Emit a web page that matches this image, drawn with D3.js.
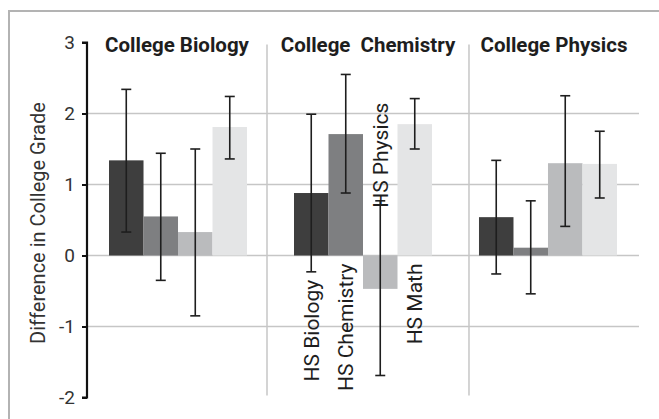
<!DOCTYPE html>
<html>
<head>
<meta charset="utf-8">
<script src="https://cdn.jsdelivr.net/npm/d3@7"></script>
<style>
  body { margin: 0; background: #fff; }
  svg { display: block; font-family: Roboto, "Open Sans", sans-serif; }
</style>
</head>
<body>
<svg id="chart" width="659" height="419"></svg>
<script>
// college course panels and the high-school course bars in each
const groups = ["College Biology", "College  Chemistry", "College Physics"];
const series = ["HS Biology", "HS Chemistry", "HS Physics", "HS Math"];
const yTicks = [3, 2, 1, 0, -1, -2];
const gridTicks = [2, 1, 0, -1];

// mean difference in college grade, per panel
const bioMeans = [1.34, 0.55, 0.33, 1.81];
const chemMeans = [0.88, 1.71, -0.47, 1.85];
const physMeans = [0.54, 0.11, 1.30, 1.29];

// error bar ends
const bioUpper = [2.34, 1.44, 1.50, 2.24];
const bioLower = [0.33, -0.35, -0.85, 1.36];
const chemUpper = [1.99, 2.55, 0.77, 2.21];
const chemLower = [-0.23, 0.88, -1.69, 1.50];
const physUpper = [1.34, 0.77, 2.25, 1.75];
const physLower = [-0.26, -0.54, 0.41, 0.81];

const colors = ["#3e3e3e", "#7e7f81", "#babbbd", "#e4e5e6"];

const means = [bioMeans, chemMeans, physMeans];
const uppers = [bioUpper, chemUpper, physUpper];
const lowers = [bioLower, chemLower, physLower];

const data = [];
groups.forEach((g, gi) => {
  series.forEach((s, si) => {
    data.push({ group: g, series: s, value: means[gi][si], hi: uppers[gi][si], lo: lowers[gi][si] });
  });
});

const svg = d3.select("#chart");
const plotLeft = 87, plotRight = 639, plotTop = 42.5, plotBottom = 397.5;

const y = d3.scaleLinear().domain([-2, 3]).range([plotBottom, plotTop]);
const x = d3.scaleBand().domain(groups).range([plotLeft, plotRight])
  .paddingInner(0.254).paddingOuter(0.119);
const xs = d3.scaleBand().domain(series).range([0, x.bandwidth()]);

// outer frame
svg.append("rect")
  .attr("x", 9).attr("y", 11).attr("width", 700).attr("height", 500)
  .attr("fill", "none").attr("stroke", "#b3b3b3").attr("stroke-width", 2);

// grid
svg.append("g").selectAll("line").data(gridTicks).join("line")
  .attr("x1", plotLeft).attr("x2", plotRight)
  .attr("y1", d => y(d)).attr("y2", d => y(d))
  .attr("stroke", "#c6c6c6").attr("stroke-width", 1.5);

// panel dividers, shifted from the start of the next group
const dividerShift = [-27, -10];
const dividers = groups.slice(1).map((g, i) => x(g) + dividerShift[i]);
svg.append("g").selectAll("line").data(dividers).join("line")
  .attr("x1", d => d).attr("x2", d => d)
  .attr("y1", y(3) + 2).attr("y2", y(-2) - 2)
  .attr("stroke", "#c6c6c6").attr("stroke-width", 1.5);

// panel titles centred in each panel
const edges = [plotLeft, ...dividers, plotRight];
svg.append("g").selectAll("text").data(groups).join("text")
  .attr("x", (d, i) => (edges[i] + edges[i + 1]) / 2)
  .attr("y", 52)
  .attr("text-anchor", "middle")
  .attr("font-size", 20.5).attr("font-weight", "bold").attr("fill", "#1e1e1e")
  .style("white-space", "pre")
  .text(d => d);

// bars
svg.append("g").selectAll("rect").data(data).join("rect")
  .attr("x", d => x(d.group) + xs(d.series))
  .attr("y", d => y(Math.max(0, d.value)))
  .attr("width", xs.bandwidth())
  .attr("height", d => Math.abs(y(d.value) - y(0)))
  .attr("fill", d => colors[series.indexOf(d.series)]);

// error bars
const eb = svg.append("g").attr("stroke", "#1e1e1e").attr("stroke-width", 1.6);
const cx = d => x(d.group) + xs(d.series) + xs.bandwidth() / 2;
eb.selectAll("line.v").data(data).join("line").attr("class", "v")
  .attr("x1", cx).attr("x2", cx)
  .attr("y1", d => y(d.hi)).attr("y2", d => y(d.lo));
eb.selectAll("line.t").data(data).join("line").attr("class", "t")
  .attr("x1", d => cx(d) - 5).attr("x2", d => cx(d) + 5)
  .attr("y1", d => y(d.hi)).attr("y2", d => y(d.hi));
eb.selectAll("line.b").data(data).join("line").attr("class", "b")
  .attr("x1", d => cx(d) - 5).attr("x2", d => cx(d) + 5)
  .attr("y1", d => y(d.lo)).attr("y2", d => y(d.lo));

// series labels written along the bars of the middle panel
const labelData = data.filter(d => d.group === groups[1]);
svg.append("g").selectAll("text").data(labelData).join("text")
  .attr("transform", d => {
    const ly = d.value < 0 ? y(d.hi) + 7 : y(Math.min(0, d.lo)) + 8;
    return "translate(" + cx(d) + "," + ly + ") rotate(-90)";
  })
  .attr("dy", "0.36em")
  .attr("text-anchor", d => d.value < 0 ? "start" : "end")
  .attr("font-size", 21).attr("fill", "#1e1e1e")
  .text(d => d.series);

// y axis
const axis = svg.append("g")
  .attr("transform", "translate(" + plotLeft + ",0)")
  .call(d3.axisLeft(y).tickValues(yTicks).tickSize(5).tickPadding(7).tickFormat(d => String(d)));
axis.select(".domain").attr("stroke", "#111").attr("stroke-width", 2.2)
  .attr("d", "M-5," + y(3) + "H0V" + y(-2) + "H-5");
axis.selectAll(".tick line").attr("stroke", "#111").attr("stroke-width", 2);
axis.selectAll(".tick text").attr("font-size", 19).attr("fill", "#333")
  .attr("font-family", "Roboto, sans-serif");

svg.append("text")
  .attr("transform", "translate(38," + ((y(3) + y(-2)) / 2 + 3) + ") rotate(-90)")
  .attr("dy", "0.35em")
  .attr("text-anchor", "middle")
  .attr("font-size", 20).attr("fill", "#333")
  .text("Difference in College Grade");
</script>
</body>
</html>
